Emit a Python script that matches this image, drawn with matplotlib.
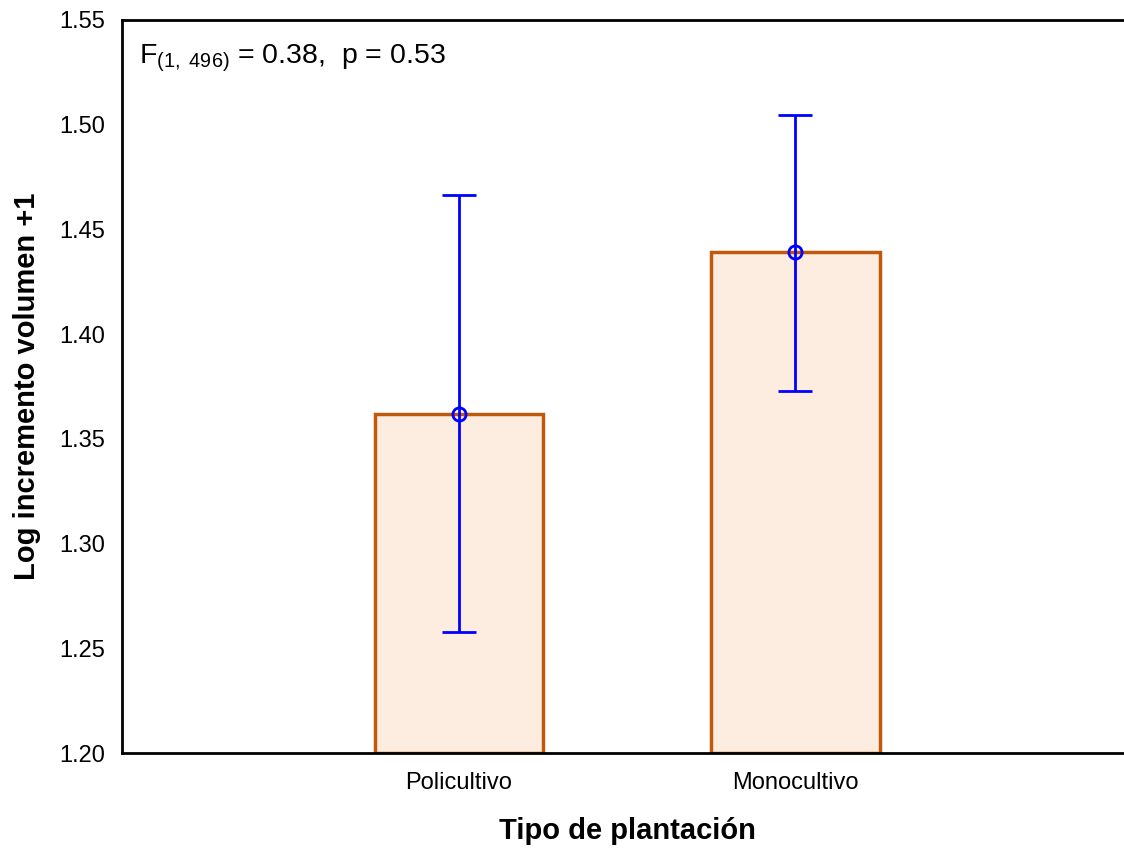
import matplotlib
matplotlib.use("Agg")
import matplotlib.pyplot as plt

plt.rcParams['font.family'] = ['Liberation Sans', 'DejaVu Sans']
plt.rcParams['mathtext.fontset'] = 'custom'
plt.rcParams['mathtext.rm'] = 'Liberation Sans'
plt.rcParams['mathtext.it'] = 'Liberation Sans'

categories = ["Policultivo", "Monocultivo"]
means = [1.362, 1.439]
upper = [1.4665, 1.5047]
lower = [1.2578, 1.3729]
yticks = [1.20, 1.25, 1.30, 1.35, 1.40, 1.45, 1.50, 1.55]

fig = plt.figure(figsize=(11.24, 8.49), dpi=100)
ax = fig.add_axes([122 / 1124, 1 - 753 / 849, (1132 - 122) / 1124, (753 - 20) / 849])

x = [1, 2]
ax.bar(x, [m - 1.20 for m in means], bottom=1.20, width=0.5,
       color="#FDEDE0", edgecolor="#BF5A0C", linewidth=2.5, zorder=2)
yerr = [[m - lo for m, lo in zip(means, lower)], [up - m for m, up in zip(means, upper)]]
ax.errorbar(x, means, yerr=yerr, fmt="o", color="#0000FF", mfc="none", mec="#0000FF",
            ms=9.5, mew=2, elinewidth=2, capsize=12.5, capthick=2, zorder=3)

ax.set_xlim(0, 3)
ax.set_ylim(1.20, 1.55)
ax.set_xticks(x)
ax.set_xticklabels(categories)
ax.set_yticks(yticks)
ax.set_yticklabels([f"{v:.2f}" for v in yticks])
ax.tick_params(axis="x", direction="in", length=5, width=1.5, labelsize=17, pad=14)
ax.tick_params(axis="y", direction="out", length=0, width=1.5, labelsize=17, pad=12)
for s in ax.spines.values():
    s.set_linewidth(2)
    s.set_color("black")

ax.set_xlabel("Tipo de plantación", fontsize=21, fontweight="bold", labelpad=16)
ax.set_ylabel("Log incremento volumen +1", fontsize=21, fontweight="bold", labelpad=13)

ax.text(0.05, 1.5315, r"F$_{\mathrm{(1,\ 496)}}$ = 0.38,  p = 0.53", fontsize=20.5,
        ha="left", va="center")

fig.savefig("out.png", dpi=100)
